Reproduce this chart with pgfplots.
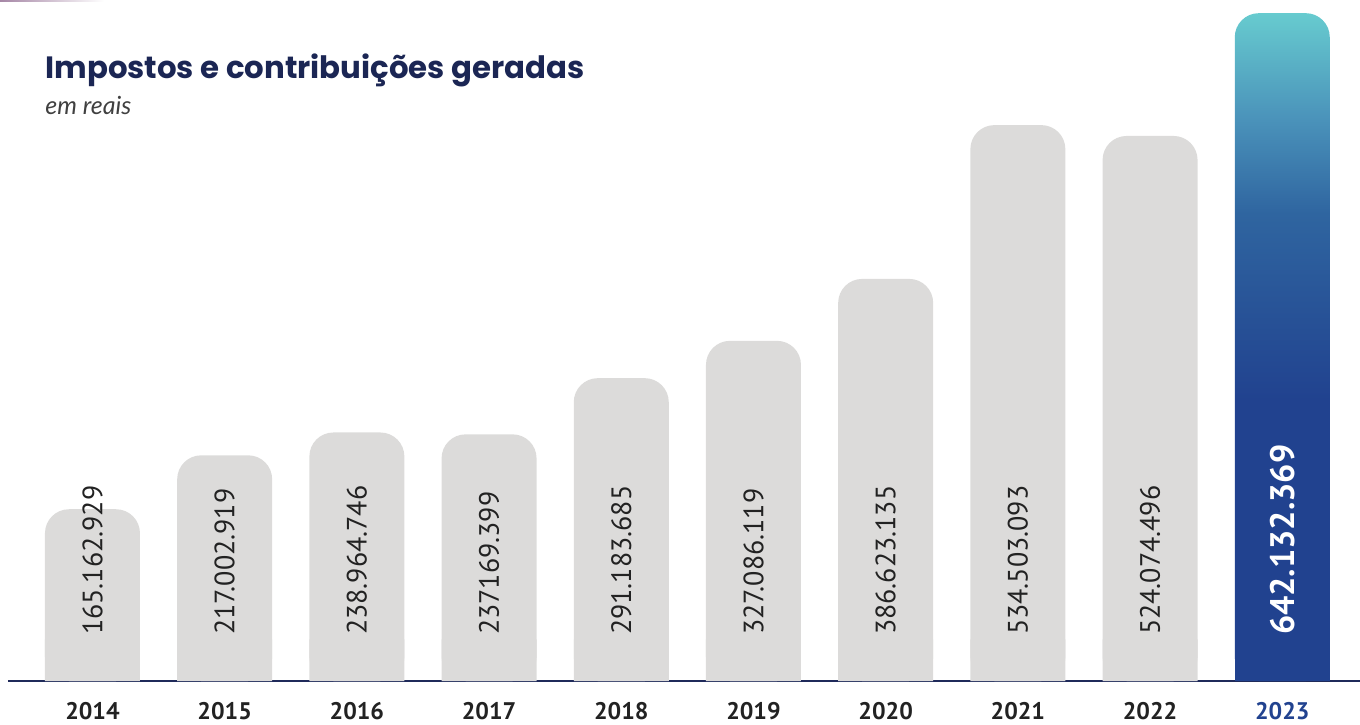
\documentclass[border=0pt]{standalone}
\usepackage{pgfplots}
\pgfplotsset{compat=1.18}
\usepackage{fontspec}
\setmainfont{PT Sans}
\newfontfamily\titlefont{Poppins}
\newfontfamily\subfont{Lato}

\definecolor{barGray}{HTML}{DCDBDA}
\definecolor{navyBar}{HTML}{21428F}
\definecolor{blueA}{HTML}{2F65A0}
\definecolor{blueB}{HTML}{4A92BA}
\definecolor{tealTop}{HTML}{67CBCF}
\definecolor{axisNavy}{HTML}{1F2A5A}
\definecolor{titleNavy}{HTML}{1B2654}
\definecolor{labelDark}{HTML}{222222}

% gradient of the 2023 bar (visible part is 25bp..75bp)
\pgfdeclareverticalshading{barshade}{100bp}{color(0bp)=(navyBar); color(46bp)=(navyBar);
  color(60bp)=(blueA); color(67bp)=(blueB); color(75bp)=(tealTop); color(100bp)=(tealTop)}

\begin{document}
\begin{tikzpicture}
\path[use as bounding box] (-4pt,-21.5pt) rectangle (676pt,340.5pt);
\shade[left color=violet!35!gray!70, right color=white] (-4pt,339.6pt) rectangle (48pt,340.5pt);

\begin{axis}[
  at={(0,0)}, anchor=south west,
  scale only axis, width=676pt, height=340.5pt,
  xmin=-0.639, xmax=9.588, ymin=0, ymax=654.8,
  axis x line*=bottom, axis y line=none,
  x axis line style={draw=axisNavy, line width=1.1pt, -},
  xtick={0,...,9},
  xticklabels={2014,2015,2016,2017,2018,2019,2020,2021,2022,\textcolor{navyBar}{2023}},
  major tick length=0pt,
  xticklabel style={font=\bfseries\fontsize{12}{12}\selectfont, text=labelDark, anchor=base, yshift=-19pt},
  clip=false,
]
% square bottoms of the bars
\addplot[ybar, bar width=47.5pt, bar shift=0pt, fill=barGray, draw=none]
  coordinates {(0,40) (1,40) (2,40) (3,40) (4,40) (5,40) (6,40) (7,40) (8,40)};
\addplot[ybar, bar width=47.5pt, bar shift=0pt, fill=navyBar, draw=none]
  coordinates {(9,40)};
% bars, in millions of reais
\addplot[ybar, bar width=47.5pt, bar shift=0pt, fill=barGray, draw=none, rounded corners=12pt]
  coordinates {(0,165.162929) (1,217.002919) (2,238.964746) (3,237.169399) (4,291.183685)
               (5,327.086119) (6,386.623135) (7,534.503093) (8,524.074496)};
\addplot[ybar, bar width=47.5pt, bar shift=0pt, draw=none, shading=barshade, rounded corners=12pt]
  coordinates {(9,642.132369)};
% value labels
\addplot[draw=none, mark=none, nodes near coords, point meta=explicit symbolic,
  every node near coord/.style={rotate=90, anchor=west, inner sep=0pt,
    font=\fontsize{14}{14}\selectfont, text=labelDark}]
  coordinates {(0,44)[165.162.929] (1,44)[217.002.919] (2,44)[238.964.746] (3,44)[237169.399]
               (4,44)[291.183.685] (5,44)[327.086.119] (6,44)[386.623.135] (7,44)[534.503.093]
               (8,44)[524.074.496]};
\addplot[draw=none, mark=none, nodes near coords, point meta=explicit symbolic,
  every node near coord/.style={rotate=90, anchor=west, inner sep=0pt,
    font=\bfseries\fontsize{17}{17}\selectfont, text=white}]
  coordinates {(9,44)[642.132.369]};
\end{axis}

\node[anchor=base west, inner sep=0pt, text=titleNavy,
  font=\titlefont\bfseries\fontsize{15.4}{15.4}\selectfont] at (18.5pt,301pt) {Impostos e contribuições geradas};
\node[anchor=base west, inner sep=0pt, text=black!75,
  font=\subfont\itshape\fontsize{12.5}{12.5}\selectfont] at (18.5pt,283pt) {em reais};
\end{tikzpicture}
\end{document}
